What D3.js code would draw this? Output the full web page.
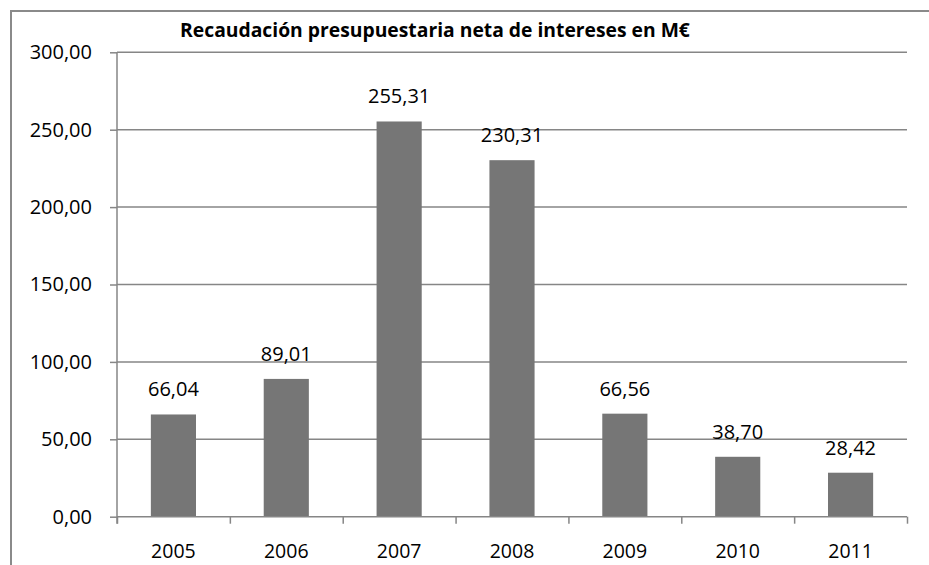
<!DOCTYPE html>
<html>
<head>
<meta charset="utf-8">
<script src="https://cdn.jsdelivr.net/npm/d3@7"></script>
<style>
  body { margin: 0; background: #fff; }
  svg { display: block; }
  .axis path, .axis line { stroke: #868686; }
</style>
</head>
<body>
<div id="chart"></div>
<script>
const years = ["2005", "2006", "2007", "2008", "2009", "2010", "2011"];
const values = [66.04, 89.01, 255.31, 230.31, 66.56, 38.70, 28.42];
const yTicks = [0, 50, 100, 150, 200, 250, 300];
const titleText = "Recaudación presupuestaria neta de intereses en M€";

const width = 929, height = 565;
const margin = { top: 52.3, right: 22, bottom: 48.3, left: 117 };
const innerW = width - margin.left - margin.right;
const innerH = height - margin.top - margin.bottom;
const font = "'Open Sans', sans-serif";
const fmt = d => d.toFixed(2).replace(".", ",");

const svg = d3.select("#chart").append("svg")
  .attr("width", width)
  .attr("height", height);

// outer chart frame (runs off the right and bottom of the picture)
svg.append("rect")
  .attr("x", 11).attr("y", 11)
  .attr("width", width).attr("height", height)
  .attr("fill", "none")
  .attr("stroke", "#8a8a8a")
  .attr("stroke-width", 2);

const g = svg.append("g")
  .attr("transform", `translate(${margin.left}, ${margin.top})`);

const x = d3.scaleBand()
  .domain(years)
  .range([0, innerW])
  .paddingInner(0.6)
  .paddingOuter(0.3);

const xEdges = d3.scaleLinear()
  .domain([0, years.length])
  .range([0, innerW]);

const y = d3.scaleLinear()
  .domain([0, 300])
  .range([innerH, 0]);

// gridlines
g.append("g")
  .selectAll("line")
  .data(yTicks.filter(d => d > 0))
  .enter()
  .append("line")
  .attr("x1", 0).attr("x2", innerW)
  .attr("y1", d => y(d)).attr("y2", d => y(d))
  .attr("stroke", "#868686")
  .attr("stroke-width", 1.5);

// bars
g.append("g")
  .selectAll("rect")
  .data(values)
  .enter()
  .append("rect")
  .attr("x", (d, i) => x(years[i]))
  .attr("y", d => y(d))
  .attr("width", x.bandwidth())
  .attr("height", d => innerH - y(d))
  .attr("fill", "#767676");

// value labels
g.append("g")
  .selectAll("text")
  .data(values)
  .enter()
  .append("text")
  .attr("x", (d, i) => x(years[i]) + x.bandwidth() / 2)
  .attr("y", d => y(d) - 18)
  .attr("text-anchor", "middle")
  .attr("font-family", font)
  .attr("font-size", 20)
  .attr("fill", "#000")
  .text(fmt);

// y axis
const yAxis = g.append("g")
  .attr("class", "axis")
  .call(d3.axisLeft(y).tickValues(yTicks).tickSize(7).tickPadding(18).tickFormat(fmt));
yAxis.select(".domain").attr("d", `M0,${innerH + 7}V0`).attr("stroke-width", 1.5);
yAxis.selectAll("line").attr("stroke-width", 1.5);
yAxis.selectAll("text")
  .attr("font-family", font)
  .attr("font-size", 20)
  .attr("fill", "#000");

// x axis: ticks on category boundaries
const xAxis = g.append("g")
  .attr("class", "axis")
  .attr("transform", `translate(0, ${innerH})`)
  .call(d3.axisBottom(xEdges).tickValues(d3.range(years.length + 1)).tickSize(7).tickFormat(""));
xAxis.select(".domain").attr("d", `M0,0H${innerW}`).attr("stroke-width", 1.5);
xAxis.selectAll("line").attr("stroke-width", 1.5);

g.append("g")
  .selectAll("text")
  .data(years)
  .enter()
  .append("text")
  .attr("x", d => x(d) + x.bandwidth() / 2)
  .attr("y", innerH + 41)
  .attr("text-anchor", "middle")
  .attr("font-family", font)
  .attr("font-size", 19.5)
  .attr("fill", "#000")
  .text(d => d);

// title
const title = svg.append("text")
  .attr("x", 435)
  .attr("y", 36.5)
  .attr("text-anchor", "middle")
  .attr("font-family", font)
  .attr("font-weight", "bold")
  .attr("font-size", 16)
  .attr("fill", "#000")
  .text(titleText);
const tw = title.node().getComputedTextLength();
title.attr("font-size", 16 * 510 / tw);
</script>
</body>
</html>
